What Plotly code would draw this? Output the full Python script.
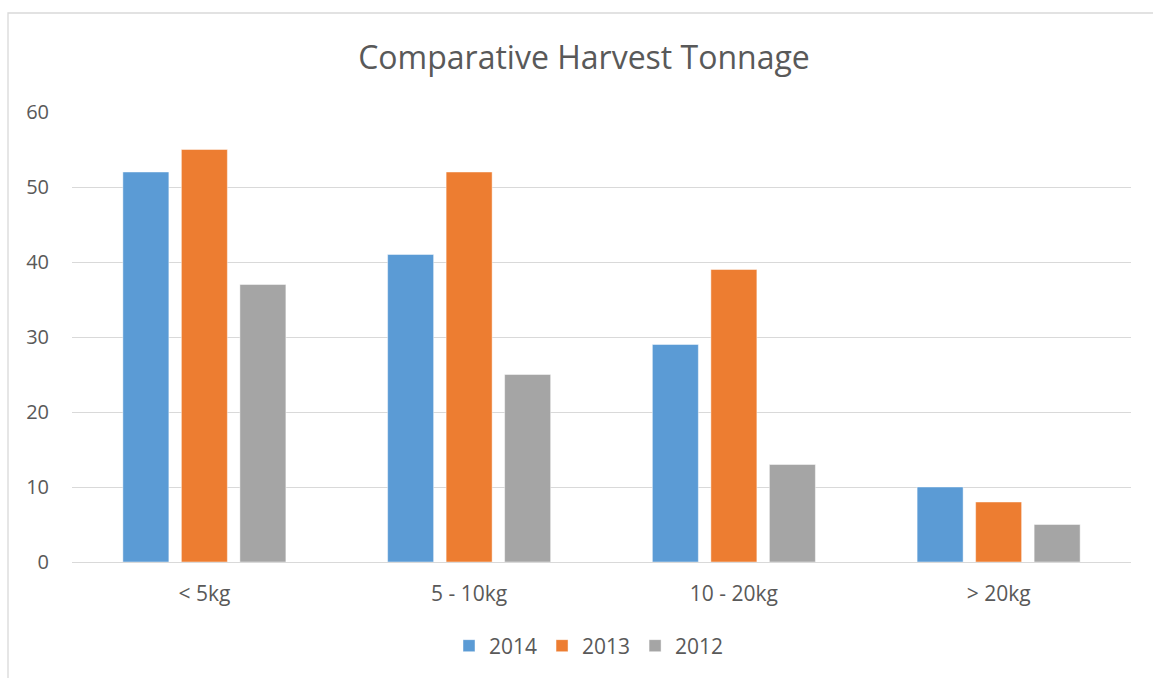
import plotly.graph_objects as go

categories = ["< 5kg", "5 - 10kg", "10 - 20kg", "> 20kg"]
series_names = ["2014", "2013", "2012"]
values_2014 = [52, 41, 29, 10]
values_2013 = [55, 52, 39, 8]
values_2012 = [37, 25, 13, 5]
colors = ["#5B9BD5", "#ED7D31", "#A5A5A5"]
y_ticks = [0, 10, 20, 30, 40, 50, 60]

# body margin is removed below, so figure pixels == screen pixels
W, H = 1153, 678
ml, mt = 72, 112
pw, ph = 1059, 450
mr = W - ml - pw
mb = H - mt - ph

fig = go.Figure()
for name, vals, col in zip(series_names, [values_2014, values_2013, values_2012], colors):
    fig.add_trace(go.Bar(
        x=categories, y=vals, name=name,
        marker=dict(color=col, line=dict(color="rgba(255,255,255,0.45)", width=1)),
    ))

FONT = "Open Sans, Liberation Sans, sans-serif"
fig.update_layout(
    width=W, height=H,
    margin=dict(l=ml, r=mr, t=mt, b=mb),
    paper_bgcolor="white", plot_bgcolor="white",
    barmode="group", bargap=0.337, bargroupgap=0.214,
    title=dict(text="Comparative Harvest Tonnage", x=584 / W, xanchor="center",
               xref="container", y=1 - 58 / H, yref="container", yanchor="middle",
               font=dict(family=FONT, size=32, color="#595959")),
    font=dict(family=FONT, size=20, color="#595959"),
    legend=dict(orientation="h", x=(589 - ml) / pw, xanchor="center",
                y=(H - 646 - mb) / ph, yanchor="middle",
                font=dict(size=21, color="#595959"),
                itemwidth=30, traceorder="normal"),
    xaxis=dict(showgrid=False, showline=False, ticks="",
               tickfont=dict(size=21, color="#595959"), ticklabelstandoff=17),
    yaxis=dict(range=[0, 60], tickvals=y_ticks, showgrid=True, gridcolor="#D9D9D9",
               gridwidth=1.3, zeroline=True, zerolinecolor="#D9D9D9", zerolinewidth=1.3,
               showline=False, ticks="", tickfont=dict(size=20, color="#595959"),
               ticklabelstandoff=22),
    showlegend=True,
)

# chart-area border (light grey), left edge at x=8 and top at y=13 on screen
fig.add_shape(type="rect", xref="paper", yref="paper",
              x0=(8 - ml) / pw, x1=(W + 40 - ml) / pw,
              y0=(H - (H + 40) - mb) / ph, y1=(H - 13 - mb) / ph,
              line=dict(color="#D9D9D9", width=1.3), fillcolor="rgba(0,0,0,0)", layer="below")

fig.write_html(
    "out.html",
    config={"displayModeBar": False},
    post_script=("document.documentElement.style.overflow='hidden';"
                 "document.body.style.margin='0';document.body.style.overflow='hidden';"),
)
